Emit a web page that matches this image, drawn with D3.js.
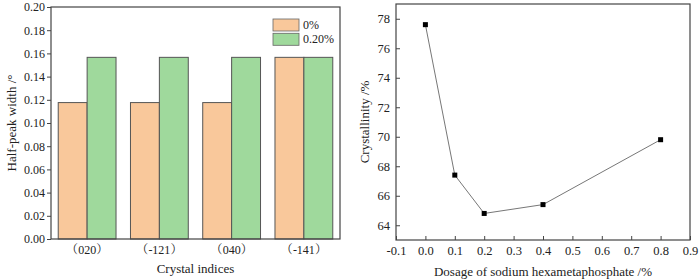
<!DOCTYPE html>
<html>
<head>
<meta charset="utf-8">
<script src="https://cdn.jsdelivr.net/npm/d3@7"></script>
<style>
  body { margin: 0; background: #fff; }
  svg { display: block; }
  text { font-family: "Liberation Serif", "Times New Roman", serif; fill: #222; }
</style>
</head>
<body>
<svg id="chart" width="700" height="279"></svg>
<script>
// 左图：半峰宽
const crystalIndices = ['（020）', '（-121）', '（040）', '（-141）'];
const seriesNames = ['0%', '0.20%'];
const width0 = [0.1176, 0.1176, 0.1176, 0.1566];
const width20 = [0.1566, 0.1566, 0.1566, 0.1566];
const widthTicks = [0, 0.02, 0.04, 0.06, 0.08, 0.10, 0.12, 0.14, 0.16, 0.18, 0.20];

// 右图：结晶度
const dosage = [0, 0.1, 0.2, 0.4, 0.8];
const crystallinity = [77.6, 67.4, 64.8, 65.4, 69.8];
const dosageTicks = [-0.1, 0, 0.1, 0.2, 0.3, 0.4, 0.5, 0.6, 0.7, 0.8, 0.9];
const crystTicks = [64, 66, 68, 70, 72, 74, 76, 78];

const colors = ['#f9c89b', '#9fd99c'];
const svg = d3.select('#chart');
const fmt1 = d => d.toFixed(1); // 保留普通连字符

// ---------- bar chart ----------
function drawBar() {
  const L = 51, R = 340, T = 7, B = 239;
  const g = svg.append('g');

  const x = d3.scaleBand().domain(crystalIndices).range([L, R]).paddingInner(0.2).paddingOuter(0.1);
  const x1 = d3.scaleBand().domain(seriesNames).range([0, x.bandwidth()]);
  const y = d3.scaleLinear().domain([0, 0.2]).range([B, T]);

  const rows = crystalIndices.map((c, i) => ({ name: c, values: [width0[i], width20[i]] }));
  const grp = g.selectAll('g.grp').data(rows).enter().append('g')
    .attr('transform', d => `translate(${x(d.name)},0)`);
  grp.selectAll('rect').data(d => d.values.map((v, j) => ({ key: seriesNames[j], v, j })))
    .enter().append('rect')
    .attr('x', d => x1(d.key))
    .attr('y', d => y(d.v))
    .attr('width', x1.bandwidth())
    .attr('height', d => B - y(d.v))
    .attr('fill', d => colors[d.j])
    .attr('stroke', '#555')
    .attr('stroke-width', 1);

  // frame
  g.append('rect').attr('x', L).attr('y', T).attr('width', R - L).attr('height', B - T)
    .attr('fill', 'none').attr('stroke', '#444').attr('stroke-width', 1.2);

  const yAxis = d3.axisLeft(y).tickValues(widthTicks).tickFormat(d3.format('.2f')).tickSize(4).tickPadding(2);
  const ya = g.append('g').attr('transform', `translate(${L},0)`).call(yAxis);
  ya.select('.domain').remove();
  ya.selectAll('line').attr('stroke', '#444');
  ya.selectAll('text').attr('font-size', 12).attr('fill', '#222').attr('font-family', '"Liberation Serif", serif');

  const xAxis = d3.axisBottom(x).tickSize(0).tickPadding(6);
  const xa = g.append('g').attr('transform', `translate(0,${B})`).call(xAxis);
  xa.select('.domain').remove();
  // 全角括号用 CJK 字体
  xa.selectAll('text').each(function (d) {
    const t = d3.select(this).text('').attr('font-size', 12).attr('fill', '#222');
    const inner = d.slice(1, -1);
    t.append('tspan').attr('font-family', '"Noto Serif CJK SC", "Noto Sans CJK SC"').text('（');
    t.append('tspan').attr('font-family', '"Liberation Serif", serif').text(inner);
    t.append('tspan').attr('font-family', '"Noto Serif CJK SC", "Noto Sans CJK SC"').text('）');
  });

  g.append('text').attr('x', (L + R) / 2).attr('y', 273).attr('text-anchor', 'middle')
    .attr('font-size', 13).text('Crystal indices');
  g.append('text').attr('transform', `translate(16,${(T + B) / 2}) rotate(-90)`)
    .attr('text-anchor', 'middle').attr('font-size', 13).text('Half-peak width /°');

  // legend
  const lg = g.append('g').attr('transform', 'translate(273,19)');
  seriesNames.forEach((s, i) => {
    lg.append('rect').attr('x', 0).attr('y', i * 14.3).attr('width', 26).attr('height', 12)
      .attr('fill', colors[i]).attr('stroke', '#666').attr('stroke-width', 0.8);
    lg.append('text').attr('x', 30).attr('y', i * 14.3 + 10).attr('font-size', 12).text(s);
  });
}

// ---------- line chart ----------
function drawLine() {
  const L = 396, R = 690, T = 4, B = 240;
  const g = svg.append('g');

  const x = d3.scaleLinear().domain([-0.1, 0.9]).range([L, R]);
  const y = d3.scaleLinear().domain([63, 79]).range([B, T]);

  g.append('rect').attr('x', L).attr('y', T).attr('width', R - L).attr('height', B - T)
    .attr('fill', 'none').attr('stroke', '#444').attr('stroke-width', 1.2);

  const xAxis = d3.axisBottom(x).tickValues(dosageTicks).tickFormat(fmt1).tickSizeInner(-4).tickSizeOuter(0).tickPadding(6);
  const xa = g.append('g').attr('transform', `translate(0,${B})`).call(xAxis);
  xa.select('.domain').remove();
  xa.selectAll('line').attr('stroke', '#444');
  xa.selectAll('text').attr('font-size', 12.5).attr('fill', '#222').attr('font-family', '"Liberation Serif", serif');

  const yAxis = d3.axisLeft(y).tickValues(crystTicks).tickSizeInner(-4).tickSizeOuter(0).tickPadding(6);
  const ya = g.append('g').attr('transform', `translate(${L},0)`).call(yAxis);
  ya.select('.domain').remove();
  ya.selectAll('line').attr('stroke', '#444');
  ya.selectAll('text').attr('font-size', 12.5).attr('fill', '#222').attr('font-family', '"Liberation Serif", serif');

  const pts = dosage.map((d, i) => [d, crystallinity[i]]);
  const line = d3.line().x(d => x(d[0])).y(d => y(d[1]));
  g.append('path').datum(pts).attr('d', line).attr('fill', 'none')
    .attr('stroke', '#777').attr('stroke-width', 1);
  g.selectAll('rect.pt').data(pts).enter().append('rect').attr('class', 'pt')
    .attr('x', d => x(d[0]) - 2.5).attr('y', d => y(d[1]) - 2.5)
    .attr('width', 5).attr('height', 5).attr('fill', '#000');

  g.append('text').attr('x', (L + R) / 2).attr('y', 276).attr('text-anchor', 'middle')
    .attr('font-size', 13).text('Dosage of sodium hexametaphosphate /%');
  g.append('text').attr('transform', `translate(369,${(T + B) / 2}) rotate(-90)`)
    .attr('text-anchor', 'middle').attr('font-size', 13).text('Crystallinity /%');
}

drawBar();
drawLine();
</script>
</body>
</html>
